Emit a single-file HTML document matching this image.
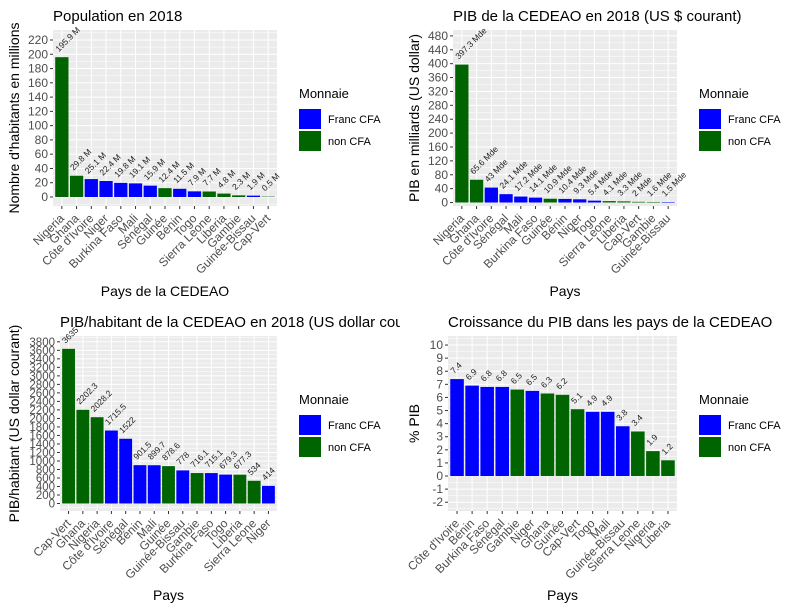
<!DOCTYPE html>
<html><head><meta charset="utf-8"><style>
body{margin:0;background:#fff;}
svg{display:block;font-family:"Liberation Sans",Arial,sans-serif;}
</style></head><body>
<svg id="chart" width="801" height="611" viewBox="0 0 801 611">
<defs><clipPath id="leftclip"><rect x="0" y="0" width="400" height="611"/></clipPath></defs>
</svg>
<script>
// Panel 1: population
const popCountries=["Nigeria","Ghana","Côte d'Ivoire","Niger","Burkina Faso","Mali","Sénégal","Guinée","Bénin","Togo","Sierra Leone","Liberia","Gambie","Guinée-Bissau","Cap-Vert"];
const popValues=[195.9,29.8,25.1,22.4,19.8,19.1,15.9,12.4,11.5,7.9,7.7,4.8,2.3,1.9,0.5];
const popCFA=[0,0,1,1,1,1,1,0,1,1,0,0,0,1,0];
const popLabels=["195.9 M","29.8 M","25.1 M","22.4 M","19.8 M","19.1 M","15.9 M","12.4 M","11.5 M","7.9 M","7.7 M","4.8 M","2.3 M","1.9 M","0.5 M"];
const popTicks=[0,20,40,60,80,100,120,140,160,180,200,220];
// Panel 2: PIB
const pibCountries=["Nigeria","Ghana","Côte d'Ivoire","Sénégal","Mali","Burkina Faso","Guinée","Bénin","Niger","Togo","Sierra Leone","Liberia","Cap-Vert","Gambie","Guinée-Bissau"];
const pibValues=[397.3,65.6,43,24.1,17.2,14.1,10.9,10.4,9.3,5.4,4.1,3.3,2,1.6,1.5];
const pibCFA=[0,0,1,1,1,1,0,1,1,1,0,0,0,0,1];
const pibLabels=["397.3 Mde","65.6 Mde","43 Mde","24.1 Mde","17.2 Mde","14.1 Mde","10.9 Mde","10.4 Mde","9.3 Mde","5.4 Mde","4.1 Mde","3.3 Mde","2 Mde","1.6 Mde","1.5 Mde"];
const pibTicks=[0,40,80,120,160,200,240,280,320,360,400,440,480];
// Panel 3: PIB/habitant
const phCountries=["Cap-Vert","Ghana","Nigeria","Côte d'Ivoire","Sénégal","Bénin","Mali","Guinée","Guinée-Bissau","Gambie","Burkina Faso","Togo","Liberia","Sierra Leone","Niger"];
const phValues=[3635,2202.3,2028.2,1715.5,1522,901.5,899.7,878.6,778,716.1,715.1,679.3,677.3,534,414];
const phCFA=[0,0,0,1,1,1,1,0,1,0,1,1,0,0,1];
const phLabels=["3635","2202.3","2028.2","1715.5","1522","901.5","899.7","878.6","778","716.1","715.1","679.3","677.3","534","414"];
const phTicks=[0,200,400,600,800,1000,1200,1400,1600,1800,2000,2200,2400,2600,2800,3000,3200,3400,3600,3800];
// Panel 4: croissance
const crCountries=["Côte d'Ivoire","Bénin","Burkina Faso","Sénégal","Gambie","Niger","Ghana","Guinée","Cap-Vert","Togo","Mali","Guinée-Bissau","Sierra Leone","Nigeria","Liberia"];
const crValues=[7.4,6.9,6.8,6.8,6.6,6.5,6.3,6.2,5.1,4.9,4.9,3.8,3.4,1.9,1.2];
const crCFA=[1,1,1,1,0,1,0,0,0,1,1,1,0,0,0];
const crLabels=["7.4","6.9","6.8","6.8","6.5","6.5","6.3","6.2","5.1","4.9","4.9","3.8","3.4","1.9","1.2"];
const crTicks=[-2,-1,0,1,2,3,4,5,6,7,8,9,10];

const NS="http://www.w3.org/2000/svg";
const svg=document.getElementById('chart');
function mk(tag,attrs,parent){const e=document.createElementNS(NS,tag);for(const k in attrs)e.setAttribute(k,attrs[k]);(parent||svg).appendChild(e);return e;}

function panel(o){
  const g=mk('g',o.clip?{'clip-path':'url(#leftclip)'}:{});
  
  
  const {x0,x1,y0,y1,vmin,vmax}=o;
  const yS=v=>y1-(v-vmin)/(vmax-vmin)*(y1-y0);
  const n=o.cats.length, step=(x1-x0)/(n+0.2);
  const xS=i=>x0+step*(0.6+i);
  const bg=mk('rect',{x:x0,y:y0,width:x1-x0,height:y1-y0,fill:'#EBEBEB'},g);
  
  
  for(let k=0;k<o.ticks.length-1;k++){const v=(o.ticks[k]+o.ticks[k+1])/2;mk('line',{x1:x0,x2:x1,y1:yS(v),y2:yS(v),stroke:'#fff','stroke-width':0.5},g);}
  const dt=o.ticks[1]-o.ticks[0];
  [o.ticks[0]-dt/2,o.ticks[o.ticks.length-1]+dt/2].forEach(v=>{const y=yS(v);if(y>y0&&y<y1)mk('line',{x1:x0,x2:x1,y1:y,y2:y,stroke:'#fff','stroke-width':0.5},g);});
  o.ticks.forEach(v=>{const y=yS(v);mk('line',{x1:x0,x2:x1,y1:y,y2:y,stroke:'#fff','stroke-width':1},g);
    mk('line',{x1:x0-3,x2:x0,y1:y,y2:y,stroke:'#333','stroke-width':1},g);
    const t=mk('text',{x:x0-5,y:y+4,'text-anchor':'end','font-size':o.tickFont||12,fill:'#4D4D4D'},g);t.textContent=v;
    });
  o.cats.forEach((c,i)=>{const x=xS(i);mk('line',{x1:x,x2:x,y1:y0,y2:y1,stroke:'#fff','stroke-width':1},g);
    mk('line',{x1:x,x2:x,y1:y1,y2:y1+3,stroke:'#333','stroke-width':1},g);
    const t=mk('text',{x:x+3,y:y1+13,'text-anchor':'end','font-size':12,fill:'#4D4D4D',transform:`rotate(-45 ${x+3} ${y1+13})`},g);t.textContent=c;
    });
  const bw=step*0.9, z=yS(0);
  o.vals.forEach((v,i)=>{const yv=yS(v);
    const r=mk('rect',{x:xS(i)-bw/2,y:Math.min(yv,z),width:bw,height:Math.abs(z-yv),fill:o.cfa[i]?'#0000FF':'#006400'},g);
    
    
    const lx=xS(i)-3,ly=yv-5;
    const t=mk('text',{x:lx,y:ly,'font-size':8.5,fill:'#222',transform:`rotate(-45 ${lx} ${ly})`},g);t.textContent=o.labels[i];
    });
  const tt=mk('text',{x:x0,y:y0-9,'font-size':15,fill:'#000'},g);tt.textContent=o.title;
  
  const xt=mk('text',{x:(x0+x1)/2,y:o.xtY,'text-anchor':'middle','font-size':14,fill:'#000'},g);xt.textContent=o.xtitle;
  
  const yc=(y0+y1)/2;
  const yt=mk('text',{x:o.ytX,y:yc,'text-anchor':'middle','font-size':14,fill:'#000',transform:`rotate(-90 ${o.ytX} ${yc})`},g);yt.textContent=o.ytitle;
  
}
function legend(x,y){
  const g=mk('g',{});
  
  
  const t=mk('text',{x:x,y:y,'font-size':13,fill:'#000'},g);t.textContent='Monnaie';
  [['Franc CFA','#0000FF'],['non CFA','#006400']].forEach((d,i)=>{
    const r=mk('rect',{x:x,y:y+11+i*22,width:22,height:20,fill:d[1]},g);
    
    const tx=mk('text',{x:x+29,y:y+25+i*22,'font-size':11,fill:'#000'},g);tx.textContent=d[0];
    });
}
panel({name:'population-panel',x0:53,x1:277,y0:30,y1:206,vmin:-12.6,vmax:234,ticks:popTicks,cats:popCountries,vals:popValues,cfa:popCFA,labels:popLabels,title:'Population en 2018',xtitle:'Pays de la CEDEAO',ytitle:"Nombre d'habitants en millions",xtY:296,ytX:19});
panel({name:'pib-panel',x0:453,x1:677,y0:30,y1:206,vmin:-10,vmax:497,ticks:pibTicks,cats:pibCountries,vals:pibValues,cfa:pibCFA,labels:pibLabels,title:'PIB de la CEDEAO en 2018 (US $ courant)',xtitle:'Pays',ytitle:'PIB en milliards (US dollar)',xtY:296,ytX:419});
panel({name:'pib-habitant-panel',clip:true,x0:60,x1:277,y0:336,y1:511,vmin:-176,vmax:3937,ticks:phTicks,cats:phCountries,vals:phValues,cfa:phCFA,labels:phLabels,title:'PIB/habitant de la CEDEAO en 2018 (US dollar courant)',xtitle:'Pays',ytitle:'PIB/habitant (US dollar courant)',xtY:600,ytX:19,tickFont:11.5});
panel({name:'croissance-panel',x0:448,x1:677,y0:336,y1:511,vmin:-2.67,vmax:10.69,ticks:crTicks,cats:crCountries,vals:crValues,cfa:crCFA,labels:crLabels,title:'Croissance du PIB dans les pays de la CEDEAO',xtitle:'Pays',ytitle:'% PIB',xtY:600,ytX:419});
legend(299,98);
legend(699,98);
legend(299,404);
legend(699,404);
</script>
</body></html>
